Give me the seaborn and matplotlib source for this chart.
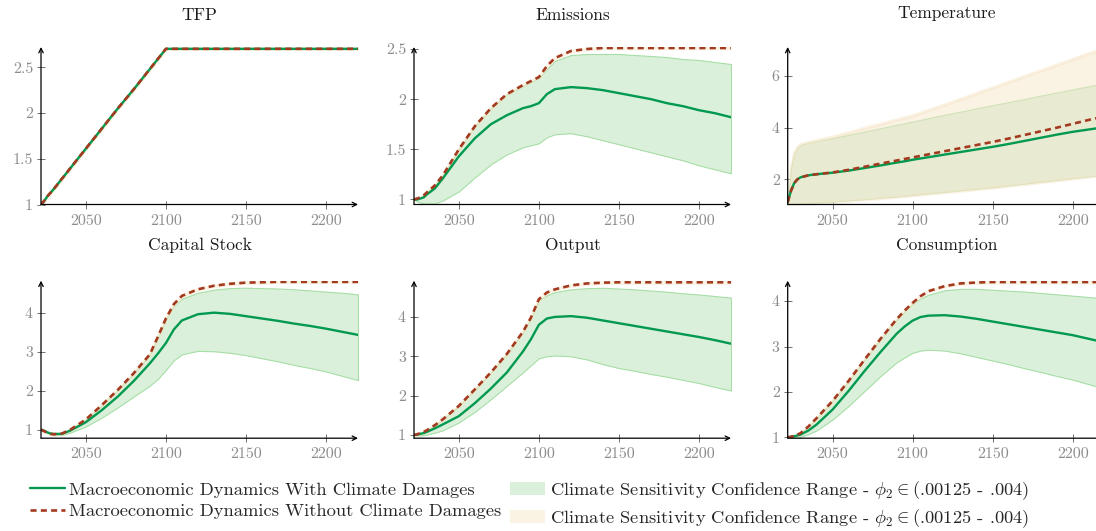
import numpy as np
import pandas as pd
import matplotlib
matplotlib.use("Agg")
import matplotlib.pyplot as plt
import seaborn as sns
from matplotlib.lines import Line2D
from matplotlib.patches import Patch

# ---------------- data ----------------
years = [2022, 2024, 2026, 2028, 2030, 2035, 2040, 2050, 2060, 2070, 2080, 2090, 2095,
         2100, 2105, 2110, 2120, 2130, 2140, 2150, 2160, 2170, 2180, 2190, 2200, 2210, 2220]

titles = ["TFP", "Emissions", "Temperature", "Capital Stock", "Output", "Consumption"]

tfp_with = [1.00, 1.04, 1.09, 1.13, 1.17, 1.28, 1.39, 1.61, 1.83, 2.05, 2.26, 2.48, 2.59,
            2.70, 2.70, 2.70, 2.70, 2.70, 2.70, 2.70, 2.70, 2.70, 2.70, 2.70, 2.70, 2.70, 2.70]
tfp_without = tfp_with
tfp_lo = tfp_with
tfp_hi = tfp_with

em_with = [1.00, 1.00, 1.01, 1.02, 1.05, 1.11, 1.21, 1.43, 1.61, 1.75, 1.84, 1.91, 1.93,
           1.96, 2.05, 2.10, 2.12, 2.11, 2.09, 2.06, 2.03, 2.00, 1.96, 1.93, 1.89, 1.86, 1.82]
em_without = [1.00, 1.01, 1.02, 1.04, 1.07, 1.14, 1.24, 1.50, 1.73, 1.91, 2.05, 2.14, 2.18,
              2.22, 2.33, 2.41, 2.48, 2.50, 2.51, 2.51, 2.51, 2.51, 2.51, 2.51, 2.51, 2.51, 2.51]
em_lo = [1.00, 0.98, 0.97, 0.96, 0.96, 0.96, 0.99, 1.08, 1.22, 1.35, 1.45, 1.52, 1.54,
         1.56, 1.62, 1.65, 1.66, 1.63, 1.59, 1.55, 1.51, 1.47, 1.43, 1.39, 1.34, 1.30, 1.26]
em_hi = [1.00, 1.01, 1.02, 1.04, 1.07, 1.14, 1.24, 1.50, 1.73, 1.91, 2.05, 2.13, 2.17,
         2.21, 2.30, 2.38, 2.44, 2.45, 2.45, 2.45, 2.44, 2.43, 2.42, 2.40, 2.39, 2.37, 2.35]

temp_with = [1.12, 1.55, 1.85, 2.00, 2.08, 2.16, 2.20, 2.26, 2.34, 2.44, 2.54, 2.65, 2.70,
             2.76, 2.81, 2.86, 2.96, 3.06, 3.16, 3.26, 3.37, 3.49, 3.61, 3.73, 3.84, 3.93, 4.02]
temp_without = [1.12, 1.55, 1.85, 2.00, 2.08, 2.16, 2.20, 2.27, 2.37, 2.49, 2.61, 2.73, 2.79,
                2.85, 2.91, 2.97, 3.09, 3.21, 3.33, 3.45, 3.58, 3.72, 3.86, 4.00, 4.15, 4.30, 4.44]
temp_lo = [1.08, 1.07, 1.07, 1.07, 1.08, 1.09, 1.11, 1.15, 1.19, 1.24, 1.29, 1.34, 1.37,
           1.40, 1.43, 1.46, 1.52, 1.58, 1.64, 1.70, 1.77, 1.84, 1.91, 1.98, 2.05, 2.12, 2.18]
temp_hi = [1.10, 2.40, 3.00, 3.22, 3.33, 3.42, 3.48, 3.60, 3.72, 3.85, 3.98, 4.11, 4.17,
           4.24, 4.30, 4.37, 4.50, 4.62, 4.75, 4.87, 4.99, 5.11, 5.24, 5.36, 5.48, 5.60, 5.72]
temp_nd_lo = [1.07, 1.06, 1.06, 1.06, 1.07, 1.08, 1.10, 1.14, 1.18, 1.23, 1.28, 1.33, 1.36,
              1.39, 1.42, 1.45, 1.51, 1.57, 1.63, 1.69, 1.76, 1.83, 1.90, 1.97, 2.04, 2.11, 2.17]
temp_nd_hi = [1.12, 2.45, 3.05, 3.26, 3.37, 3.45, 3.52, 3.66, 3.82, 4.00, 4.15, 4.32, 4.40,
              4.48, 4.58, 4.69, 4.90, 5.12, 5.34, 5.56, 5.78, 6.00, 6.22, 6.44, 6.66, 6.88, 7.08]

cap_with = [1.00, 0.97, 0.93, 0.90, 0.89, 0.89, 0.97, 1.19, 1.50, 1.85, 2.25, 2.70, 2.95,
            3.22, 3.57, 3.80, 3.96, 4.00, 3.97, 3.91, 3.85, 3.79, 3.72, 3.66, 3.59, 3.51, 3.43]
cap_without = [1.00, 0.96, 0.92, 0.89, 0.88, 0.90, 0.99, 1.26, 1.63, 2.02, 2.45, 2.93, 3.38,
               3.85, 4.22, 4.43, 4.60, 4.69, 4.74, 4.77, 4.78, 4.79, 4.79, 4.79, 4.79, 4.79, 4.79]
cap_lo = [1.00, 0.96, 0.92, 0.88, 0.86, 0.86, 0.92, 1.08, 1.31, 1.57, 1.85, 2.13, 2.30,
          2.53, 2.78, 2.93, 3.02, 3.01, 2.97, 2.91, 2.83, 2.75, 2.66, 2.58, 2.49, 2.38, 2.27]
cap_hi = [1.00, 0.96, 0.92, 0.89, 0.88, 0.90, 0.99, 1.26, 1.63, 2.02, 2.45, 2.92, 3.36,
          3.83, 4.18, 4.36, 4.51, 4.59, 4.63, 4.64, 4.63, 4.62, 4.60, 4.57, 4.54, 4.51, 4.47]

out_with = [1.00, 1.01, 1.03, 1.05, 1.08, 1.17, 1.27, 1.48, 1.81, 2.18, 2.59, 3.12, 3.43,
            3.80, 3.96, 4.00, 4.02, 3.98, 3.91, 3.84, 3.77, 3.70, 3.63, 3.56, 3.49, 3.41, 3.32]
out_without = [1.00, 1.02, 1.05, 1.08, 1.12, 1.25, 1.40, 1.74, 2.16, 2.59, 3.06, 3.62, 3.98,
               4.45, 4.62, 4.70, 4.80, 4.85, 4.87, 4.88, 4.88, 4.88, 4.88, 4.88, 4.88, 4.88, 4.88]
out_lo = [1.00, 0.99, 0.99, 1.00, 1.01, 1.06, 1.12, 1.32, 1.59, 1.91, 2.25, 2.59, 2.77,
          2.95, 3.00, 3.02, 3.00, 2.92, 2.80, 2.70, 2.63, 2.55, 2.48, 2.40, 2.32, 2.22, 2.13]
out_hi = [1.00, 1.02, 1.05, 1.08, 1.12, 1.25, 1.40, 1.74, 2.16, 2.59, 3.06, 3.61, 3.96,
          4.43, 4.55, 4.63, 4.70, 4.73, 4.74, 4.72, 4.70, 4.67, 4.64, 4.60, 4.57, 4.53, 4.49]

con_with = [1.00, 1.01, 1.02, 1.04, 1.06, 1.15, 1.28, 1.61, 2.02, 2.46, 2.88, 3.28, 3.44,
            3.57, 3.65, 3.68, 3.69, 3.66, 3.61, 3.55, 3.49, 3.43, 3.37, 3.31, 3.25, 3.17, 3.09]
con_without = [1.00, 1.01, 1.03, 1.06, 1.09, 1.24, 1.42, 1.80, 2.24, 2.71, 3.17, 3.60, 3.79,
               3.96, 4.11, 4.22, 4.33, 4.39, 4.41, 4.42, 4.42, 4.42, 4.42, 4.42, 4.42, 4.42, 4.42]
con_lo = [1.00, 0.99, 0.99, 1.00, 1.01, 1.07, 1.15, 1.39, 1.69, 2.02, 2.35, 2.65, 2.76,
          2.86, 2.91, 2.93, 2.91, 2.85, 2.77, 2.69, 2.61, 2.52, 2.44, 2.35, 2.27, 2.17, 2.07]
con_hi = [1.00, 1.01, 1.03, 1.06, 1.09, 1.24, 1.42, 1.80, 2.24, 2.71, 3.17, 3.59, 3.77,
          3.94, 4.06, 4.14, 4.24, 4.27, 4.27, 4.25, 4.23, 4.21, 4.18, 4.15, 4.12, 4.09, 4.06]

ytick_values = [[1, 1.5, 2, 2.5], [1, 1.5, 2, 2.5], [2, 4, 6], [1, 2, 3, 4], [1, 2, 3, 4], [1, 2, 3, 4]]
ytick_labels = [["1", "1.5", "2", "2.5"], ["1", "1.5", "2", "2.5"], ["2", "4", "6"],
                ["1", "2", "3", "4"], ["1", "2", "3", "4"], ["1", "2", "3", "4"]]
xtick_values = [2050, 2100, 2150, 2200]
xtick_labels = ["2050", "2100", "2150", "2200"]

legend_labels = ["Macroeconomic Dynamics With Climate Damages",
                 "Macroeconomic Dynamics Without Climate Damages",
                 r"Climate Sensitivity Confidence Range - $\phi_2\in$(.00125 - .004)",
                 r"Climate Sensitivity Confidence Range - $\phi_2\in$(.00125 - .004)"]

panels = [
    (tfp_with, tfp_without, tfp_lo, tfp_hi, tfp_without, tfp_without),
    (em_with, em_without, em_lo, em_hi, em_without, em_without),
    (temp_with, temp_without, temp_lo, temp_hi, temp_nd_lo, temp_nd_hi),
    (cap_with, cap_without, cap_lo, cap_hi, cap_without, cap_without),
    (out_with, out_without, out_lo, out_hi, out_without, out_without),
    (con_with, con_without, con_lo, con_hi, con_without, con_without),
]

# ---------------- style ----------------
sns.set_theme(style="white")
plt.rcParams["font.family"] = ["cmr10", "DejaVu Serif"]
plt.rcParams["mathtext.fontset"] = "cm"
plt.rcParams["axes.formatter.use_mathtext"] = True

GREEN = "#00994f"
BROWN = "#a33a20"
BAND_G = "#daf0da"
BAND_G_EDGE = "#a6dea6"
BAND_B = "#f7e6c9"
TICK_LABEL = "#8c8c8c"

ylims = [(1.0, 2.72), (0.95, 2.52), (1.03, 7.12), (0.78, 4.82), (0.92, 4.92), (0.98, 4.45)]

W, H = 1096, 531
fig = plt.figure(figsize=(W / 100, H / 100), dpi=100)

lefts = [41, 414, 787.7]
tops = [47, 280.7]
aw, ah = 317, 157.5

for i, (title, data) in enumerate(zip(titles, panels)):
    r, c = divmod(i, 3)
    left = lefts[c] / W
    bottom = 1 - (tops[r] + ah) / H
    ax = fig.add_axes([left, bottom, aw / W, ah / H])
    s_with, s_without, lo, hi, nd_lo, nd_hi = data
    df = pd.DataFrame({"year": years, "with": s_with, "without": s_without})

    ax.fill_between(years, lo, hi, color=BAND_G, edgecolor=BAND_G_EDGE, linewidth=0.8, zorder=1)
    ax.fill_between(years, nd_lo, nd_hi, color=BAND_B, alpha=0.5, edgecolor=BAND_B,
                    linewidth=2.4, zorder=2)
    sns.lineplot(data=df, x="year", y="with", ax=ax, color=GREEN, linewidth=1.7, zorder=3,
                 sort=False)
    sns.lineplot(data=df, x="year", y="without", ax=ax, color=BROWN, linewidth=1.9, zorder=4,
                 linestyle=(0, (2.3, 1.6)), sort=False)

    ax.set_xlim(years[0], years[-1])
    ax.set_ylim(*ylims[i])
    ax.set_xlabel("")
    ax.set_ylabel("")
    ax.set_xticks(xtick_values, xtick_labels)
    ax.set_yticks(ytick_values[i], ytick_labels[i])
    for sp in ax.spines.values():
        sp.set_visible(False)
    ax.tick_params(axis="both", direction="inout", length=5.5, width=0.7, color="#707070",
                   labelcolor=TICK_LABEL, labelsize=11.5, pad=3)
    ax.tick_params(axis="x", pad=4)
    ax.tick_params(left=True, bottom=True)
    ax.annotate("", xy=(1, 0), xytext=(0, 0), xycoords="axes fraction",
                arrowprops=dict(arrowstyle="->", lw=0.9, color="black", shrinkA=0, shrinkB=0,
                                mutation_scale=8), annotation_clip=False, zorder=6)
    ax.annotate("", xy=(0, 1), xytext=(0, 0), xycoords="axes fraction",
                arrowprops=dict(arrowstyle="->", lw=0.9, color="black", shrinkA=0, shrinkB=0,
                                mutation_scale=8), annotation_clip=False, zorder=6)
    ty = 1 + (32 / ah if r == 0 else 35 / ah)
    if i == 2:
        ty = 1 + 34 / ah
    ax.text(0.5, ty, title, transform=ax.transAxes, ha="center", va="center",
            fontsize=12.5, color="#1a1a1a")

handles = [Line2D([0], [0], color=GREEN, lw=1.7),
           Line2D([0], [0], color=BROWN, lw=1.9, linestyle=(0, (2.3, 1.6))),
           Patch(facecolor=BAND_G, edgecolor="none"),
           Patch(facecolor=BAND_B, alpha=0.5, edgecolor="none")]
fig.legend(handles, legend_labels, ncol=2, loc="center", bbox_to_anchor=(0.483, 0.05),
           frameon=False, fontsize=13.3, handlelength=1.9, handletextpad=0.25,
           columnspacing=0.45, labelspacing=0.3, borderpad=0.2)

fig.savefig("out.png", dpi=100)
